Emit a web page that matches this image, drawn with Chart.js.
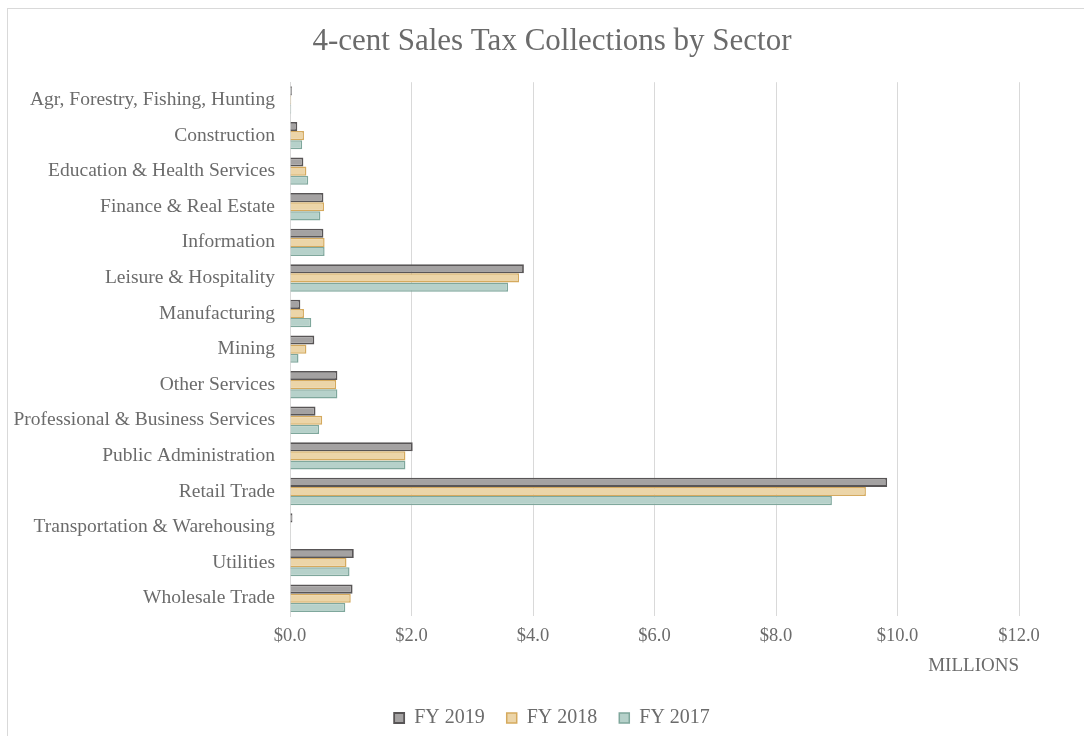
<!DOCTYPE html>
<html>
<head>
<meta charset="utf-8">
<title>4-cent Sales Tax Collections by Sector</title>
<script src="https://cdn.jsdelivr.net/npm/chart.js@4/dist/chart.umd.min.js"></script>
<style>
  html, body { margin: 0; padding: 0; background: #fff; overflow: hidden; }
  #frame {
    position: absolute; left: 7px; top: 8px;
    width: 1200px; height: 800px;
    border: 1px solid #d9d9d9;
  }
  #wrap { position: absolute; left: 0; top: 0; width: 1084px; height: 736px; }
</style>
</head>
<body>
<div id="frame"></div>
<div id="wrap"><canvas id="taxChart" width="1084" height="736"></canvas></div>
<script>
const sectors = [
  "Agr, Forestry, Fishing, Hunting",
  "Construction",
  "Education & Health Services",
  "Finance & Real Estate",
  "Information",
  "Leisure & Hospitality",
  "Manufacturing",
  "Mining",
  "Other Services",
  "Professional & Business Services",
  "Public Administration",
  "Retail Trade",
  "Transportation & Warehousing",
  "Utilities",
  "Wholesale Trade",
];

// collections in millions of dollars
const fy2019 = [0.03, 0.12, 0.22, 0.55, 0.55, 3.85, 0.17, 0.40, 0.78, 0.42, 2.02, 9.83, 0.04, 1.05, 1.03];
const fy2018 = [0.02, 0.23, 0.27, 0.56, 0.57, 3.77, 0.23, 0.27, 0.76, 0.53, 1.90, 9.48, 0.01, 0.93, 1.00];
const fy2017 = [0.02, 0.20, 0.30, 0.50, 0.57, 3.59, 0.35, 0.14, 0.78, 0.48, 1.90, 8.92, 0.01, 0.98, 0.91];

const xTicks = [0, 2, 4, 6, 8, 10, 12];

const textColor = "#6b6b6b";
const serif = "'Liberation Serif', 'Times New Roman', serif";

const ctx = document.getElementById("taxChart").getContext("2d");

new Chart(ctx, {
  type: "bar",
  data: {
    labels: sectors,
    datasets: [
      {
        label: "FY 2019",
        data: fy2019,
        backgroundColor: "#a4a2a2",
        borderColor: "#585556",
        borderWidth: 1.8,
      },
      {
        label: "FY 2018",
        data: fy2018,
        backgroundColor: "#ecd5a8",
        borderColor: "#d5aa5e",
        borderWidth: 1.5,
      },
      {
        label: "FY 2017",
        data: fy2017,
        backgroundColor: "#b6d1ca",
        borderColor: "#7fa79c",
        borderWidth: 1.5,
      },
    ],
  },
  options: {
    indexAxis: "y",
    responsive: false,
    animation: false,
    datasets: {
      bar: { categoryPercentage: 0.77, barPercentage: 1.0 },
    },
    layout: {
      padding: { left: 10, right: -10, top: 23, bottom: -2 },
    },
    plugins: {
      title: {
        display: true,
        text: "4-cent Sales Tax Collections by Sector",
        color: textColor,
        font: { family: serif, size: 31, weight: "normal" },
        padding: { top: 0, bottom: 22 },
      },
      legend: {
        position: "bottom",
        labels: {
          color: textColor,
          font: { family: serif, size: 20 },
          boxWidth: 10,
          boxHeight: 10,
          padding: 22,
          useBorderRadius: false,
        },
      },
      tooltip: { enabled: false },
    },
    scales: {
      y: {
        afterFit: (scale) => {
          scale.width = 280;
        },
        grid: { display: false, drawTicks: false },
        border: { display: true, color: "#d9d9d9" },
        ticks: {
          color: textColor,
          font: { family: serif, size: 19.5 },
          padding: 15,
          autoSkip: false,
        },
      },
      // empty strip on the right so the title and legend centre on the frame
      rightGap: {
        type: "linear",
        position: "right",
        afterFit: (scale) => {
          scale.width = 75;
        },
        grid: { display: false, drawTicks: false },
        border: { display: false },
        ticks: { display: false },
      },
      x: {
        min: 0,
        max: 12,
        afterBuildTicks: (scale) => {
          scale.ticks = xTicks.map((v) => ({ value: v }));
        },
        afterFit: (scale) => {
          scale.height = 70;
        },
        grid: { color: "#d9d9d9", lineWidth: 1, drawTicks: false },
        border: { display: false },
        ticks: {
          color: textColor,
          font: { family: serif, size: 18.5 },
          padding: 9,
          callback: (value) => "$" + Number(value).toFixed(1),
        },
        title: {
          display: true,
          text: "MILLIONS",
          align: "end",
          color: textColor,
          font: { family: serif, size: 19 },
          padding: { top: 0, bottom: 9 },
        },
      },
    },
  },
});
</script>
</body>
</html>
